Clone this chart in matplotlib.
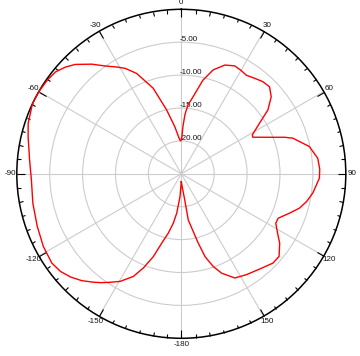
import numpy as np
import matplotlib
matplotlib.use("Agg")
import matplotlib.pyplot as plt

# ---- data ----
angles_deg = [-180, -176.7, -173.4, -170.8, -167.7, -164.8, -161.3, -158.1, -155, -150.4,
              -146.8, -143.8, -141, -137, -133, -129, -124.6, -117.8, -110, -101.2,
              -92.4, -84.8, -76.4, -71.8, -64.8, -60.1, -55.1, -51, -47.4, -44.1,
              -39.2, -35.2, -31.1, -28, -24, -18.2, -13, -7.8, -3.5, -1.5,
              0.5, 2, 3.5, 5.5, 8, 13, 17, 21.8, 26.3, 30,
              33.4, 37.5, 41.5, 45.4, 49.4, 53.6, 57.1, 61.3, 62.9, 64.9,
              68.6, 70.5, 72.3, 78, 83.5, 88, 91.8, 98.3, 102.5, 106.2,
              110, 114.6, 117.6, 121.7, 125.2, 130.2, 134.2, 140.5, 147.1, 152.8,
              157.9, 161, 164, 166.3, 168, 171.4, 172.5, 176, 180]
gain_db = [-23.8, -21.5, -19.0, -17.4, -15.8, -14.4, -11.7, -9.6, -7.8, -6.2,
           -5.3, -4.5, -3.8, -2.8, -2.0, -1.4, -1.1, -1.3, -1.7, -2.0,
           -2.2, -1.85, -1.05, -0.5, 0.0, 0.0, -0.15, -0.4, -1.05, -1.85,
           -3.5, -4.95, -6.05, -6.85, -8.3, -11.3, -15.0, -17.8, -19.6, -20.0,
           -19.8, -17.8, -16.0, -14.5, -13.5, -10.4, -8.5, -7.2, -6.7, -6.85,
           -7.05, -6.7, -6.3, -6.17, -7.0, -8.65, -10.85, -12.7, -12.8, -11.9,
           -9.8, -8.36, -7.2, -5.1, -4.13, -3.95, -4.0, -4.8, -5.5, -6.3,
           -7.5, -8.8, -8.8, -7.8, -6.7, -5.55, -5.55, -6.25, -6.75, -7.2,
           -8.7, -10.1, -11.9, -14.2, -15.8, -17.9, -21.0, -23.0, -23.8]

theta_ticks = [0, 30, 60, 90, 120, 150, 180, 210, 240, 270, 300, 330]
theta_labels = ['0', '30', '60', '90', '120', '150', '-180', '-150', '-120', '-90', '-60', '-30']
r_ticks = [-20, -15, -10, -5]
r_min, r_max = -25, 0

plt.rcParams['font.family'] = ['Liberation Sans', 'DejaVu Sans']

W, H = 360, 356
fig = plt.figure(figsize=(W / 100, H / 100), dpi=100)
cx, cy, R = 181.3, 173.8, 164.5
ax = fig.add_axes([(cx - R) / W, (H - cy - R) / H, 2 * R / W, 2 * R / H], projection='polar')
ax.set_theta_zero_location('N')
ax.set_theta_direction(-1)
ax.set_ylim(r_min, r_max)

ax.set_xticks(np.deg2rad(theta_ticks))
ax.set_xticklabels(theta_labels, fontsize=5.8, color='#111111')
ax.set_xticks(np.deg2rad(np.arange(0, 360, 5)), minor=True)
ax.tick_params(axis='x', which='both', top=True, bottom=False, labeltop=False, labelbottom=True)
ax.tick_params(axis='x', which='major', direction='in', length=5.8, width=0.8, color='black', pad=-2.3)
ax.tick_params(axis='x', which='minor', direction='in', length=2.6, width=0.8, color='black')

ax.set_yticks(r_ticks)
ax.set_yticklabels([])
ax.grid(True, color='#cccccc', linewidth=0.8)
ax.spines['polar'].set_color('black')
ax.spines['polar'].set_linewidth(1.1)

for v in r_ticks:
    ax.annotate(f'{v:.2f}', xy=(0, v), xytext=(-1.0, 2.0), textcoords='offset points',
                ha='left', va='center', fontsize=5.8, color='#111111', zorder=2)

ax.plot(np.deg2rad(angles_deg), gain_db, color='red', linewidth=1.0, zorder=3, clip_on=False)

fig.savefig('out.png', dpi=100, facecolor='white')
